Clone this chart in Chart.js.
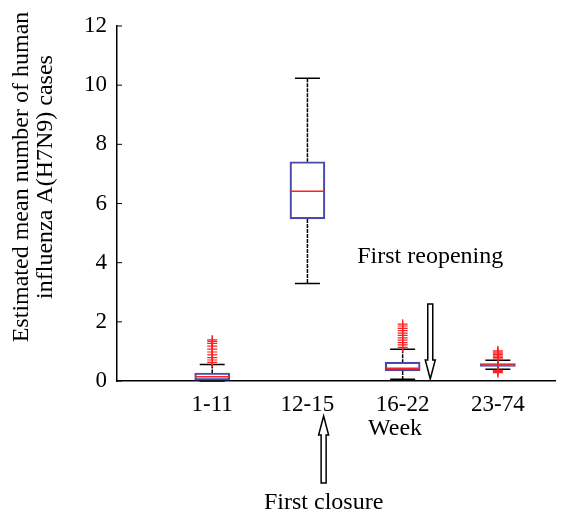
<!DOCTYPE html>
<html>
<head>
<meta charset="utf-8">
<script src="https://cdn.jsdelivr.net/npm/chart.js@4.4.1/dist/chart.umd.min.js"></script>
<style>
  html, body { margin: 0; padding: 0; background: #fff; }
  #wrap { width: 584px; height: 515px; }
</style>
</head>
<body>
<div id="wrap"><canvas id="boxChart"></canvas></div>
<script>
// Box plot values per week group
const weeks = ['1-11', '12-15', '16-22', '23-74'];
const lowerWhisker = [0.0, 3.30, 0.06, 0.40];
const q1 = [0.03, 5.48, 0.34, 0.49];
const medians = [0.14, 6.41, 0.43, 0.54];
const q3 = [0.27, 7.41, 0.64, 0.59];
const upperWhisker = [0.56, 10.23, 1.07, 0.70];
const outliers1 = [0.63, 0.71, 0.79, 0.88, 0.98, 1.08, 1.18, 1.27, 1.34, 1.39];
const outliers2 = [];
const outliers3 = [1.14, 1.22, 1.30, 1.38, 1.46, 1.54, 1.62, 1.70, 1.78, 1.86, 1.92];
const outliers4 = [0.28, 0.32, 0.36, 0.74, 0.79, 0.84, 0.89, 0.94, 0.98, 1.02];
const yTicks = [0, 2, 4, 6, 8, 10, 12];

const FONT = "'Liberation Serif', 'Times New Roman', serif";
const allOutliers = [outliers1, outliers2, outliers3, outliers4];

const boxData = weeks.map((w, i) => ({ x: i + 1, y: [q1[i], q3[i]] }));
const outlierData = [];
allOutliers.forEach((list, i) => {
    list.forEach(v => outlierData.push({ x: i + 1, y: v }));
});

function hollowArrow(ctx, x, yTail, yTip) {
    // vertical hollow arrow, tip at yTip
    const dir = yTip > yTail ? 1 : -1;
    const shaft = 2.5, head = 5, headLen = 19;
    const yBase = yTip - dir * headLen;
    ctx.beginPath();
    ctx.moveTo(x - shaft, yTail);
    ctx.lineTo(x - shaft, yBase);
    ctx.lineTo(x - head, yBase);
    ctx.lineTo(x, yTip);
    ctx.lineTo(x + head, yBase);
    ctx.lineTo(x + shaft, yBase);
    ctx.lineTo(x + shaft, yTail);
    ctx.closePath();
    ctx.fillStyle = '#fff';
    ctx.fill();
    ctx.strokeStyle = '#000';
    ctx.lineWidth = 1.5;
    ctx.stroke();
}

const boxPlugin = {
    id: 'boxParts',
    beforeDatasetsDraw(chart) {
        const ctx = chart.ctx;
        const xs = chart.scales.x, ys = chart.scales.y;
        ctx.save();
        ctx.strokeStyle = '#000';
        ctx.lineWidth = 1.5;
        weeks.forEach((w, i) => {
            const px = xs.getPixelForValue(i + 1);
            // dashed whiskers
            ctx.setLineDash([4, 1]);
            ctx.beginPath();
            ctx.moveTo(px, ys.getPixelForValue(upperWhisker[i]));
            ctx.lineTo(px, ys.getPixelForValue(q3[i]));
            ctx.moveTo(px, ys.getPixelForValue(q1[i]));
            ctx.lineTo(px, ys.getPixelForValue(lowerWhisker[i]));
            ctx.stroke();
            // caps
            ctx.setLineDash([]);
            ctx.beginPath();
            [upperWhisker[i], lowerWhisker[i]].forEach(v => {
                const py = ys.getPixelForValue(v);
                ctx.moveTo(px - 12.5, py);
                ctx.lineTo(px + 12.5, py);
            });
            ctx.stroke();
        });
        ctx.restore();
    },
    afterDatasetsDraw(chart) {
        const ctx = chart.ctx;
        const xs = chart.scales.x, ys = chart.scales.y;
        ctx.save();
        ctx.strokeStyle = '#ff2020';
        ctx.lineWidth = 1.5;
        weeks.forEach((w, i) => {
            const px = xs.getPixelForValue(i + 1);
            const py = ys.getPixelForValue(medians[i]);
            ctx.beginPath();
            ctx.moveTo(px - 17, py);
            ctx.lineTo(px + 17, py);
            ctx.stroke();
        });
        ctx.restore();
    },
    afterDraw(chart) {
        const ctx = chart.ctx;
        const xs = chart.scales.x, ys = chart.scales.y;
        const area = chart.chartArea;
        ctx.save();
        // inward y ticks
        ctx.strokeStyle = '#000';
        ctx.lineWidth = 1;
        yTicks.forEach(v => {
            const py = ys.getPixelForValue(v);
            ctx.beginPath();
            ctx.moveTo(area.left, py);
            ctx.lineTo(area.left + 5, py);
            ctx.stroke();
        });

        ctx.fillStyle = '#000';
        ctx.font = '24px ' + FONT;
        ctx.textAlign = 'center';
        ctx.textBaseline = 'middle';

        // y title, two rotated lines
        ctx.save();
        ctx.translate(22, 177);
        ctx.rotate(-Math.PI / 2);
        ctx.fillText('Estimated mean number of human', 0, 0);
        ctx.restore();
        ctx.save();
        ctx.translate(46, 177);
        ctx.rotate(-Math.PI / 2);
        ctx.fillText('influenza A(H7N9) cases', 0, 0);
        ctx.restore();

        // x title
        ctx.fillText('Week', xs.getPixelForValue(2.92), area.bottom + 48);

        // reopening note
        const xr = xs.getPixelForValue(3.29);
        ctx.fillText('First reopening', xr, ys.getPixelForValue(4.2));
        hollowArrow(ctx, xr, ys.getPixelForValue(2.6), area.bottom - 2);

        // closure note
        const xc = xs.getPixelForValue(2.17);
        hollowArrow(ctx, xc, area.bottom + 102, area.bottom + 35);
        ctx.fillStyle = '#000';
        ctx.fillText('First closure', xc, area.bottom + 122);
        ctx.restore();
    }
};

new Chart(document.getElementById('boxChart'), {
    type: 'bar',
    data: {
        datasets: [{
            type: 'bar',
            data: boxData,
            backgroundColor: 'rgba(255,255,255,0)',
            borderColor: '#4a4aa8',
            borderWidth: 1.5,
            borderSkipped: false,
            barThickness: 35
        }, {
            type: 'scatter',
            data: outlierData,
            pointStyle: 'cross',
            radius: 5,
            borderColor: '#ff2020',
            borderWidth: 1.2,
            backgroundColor: '#ff2020'
        }]
    },
    options: {
        responsive: true,
        maintainAspectRatio: false,
        animation: false,
        layout: { padding: { left: 0, top: 26, right: 29, bottom: 0 } },
        plugins: {
            legend: { display: false },
            tooltip: { enabled: false }
        },
        scales: {
            x: {
                type: 'linear',
                min: 0,
                max: 4.6,
                offset: false,
                grid: { display: false, drawTicks: false },
                border: { display: true, color: '#000', width: 1.5 },
                afterBuildTicks: scale => {
                    scale.ticks = weeks.map((w, i) => ({ value: i + 1 }));
                },
                afterFit: scale => { scale.height = 134; },
                ticks: {
                    color: '#000',
                    padding: 10,
                    autoSkip: false,
                    maxRotation: 0,
                    font: { family: FONT, size: 23 },
                    callback: value => weeks[value - 1]
                }
            },
            y: {
                min: 0,
                max: 12,
                grid: { display: false, drawTicks: false },
                border: { display: true, color: '#000', width: 1.5 },
                afterBuildTicks: scale => {
                    scale.ticks = yTicks.map(v => ({ value: v }));
                },
                afterFit: scale => { scale.width = 117; },
                ticks: {
                    color: '#000',
                    padding: 10,
                    font: { family: FONT, size: 23 }
                }
            }
        }
    },
    plugins: [boxPlugin]
});
</script>
</body>
</html>
